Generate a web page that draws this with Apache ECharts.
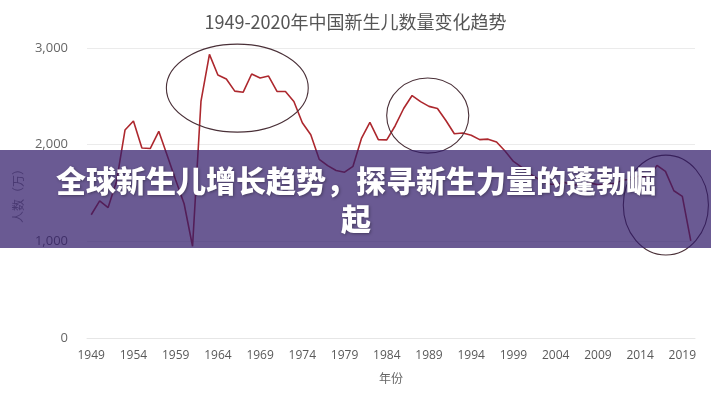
<!DOCTYPE html>
<html>
<head>
<meta charset="utf-8">
<script src="https://cdn.jsdelivr.net/npm/echarts@6/dist/echarts.min.js"></script>
<style>
html,body{margin:0;padding:0;background:#fff;}
#chart{width:711px;height:400px;}
</style>
</head>
<body>
<div id="chart"></div>
<script>
var titleText = '1949-2020年中国新生儿数量变化趋势';
var bannerText = '全球新生儿增长趋势，探寻新生力量的蓬勃崛\n起';
var yAxisName = '人数（万）';
var xAxisName = '年份';

var years = ['1949','1950','1951','1952','1953','1954','1955','1956','1957','1958',
  '1959','1960','1961','1962','1963','1964','1965','1966','1967','1968',
  '1969','1970','1971','1972','1973','1974','1975','1976','1977','1978',
  '1979','1980','1981','1982','1983','1984','1985','1986','1987','1988',
  '1989','1990','1991','1992','1993','1994','1995','1996','1997','1998',
  '1999','2000','2001','2002','2003','2004','2005','2006','2007','2008',
  '2009','2010','2011','2012','2013','2014','2015','2016','2017','2018',
  '2019','2020'];

var births = [1275,1419,1349,1622,2151,2245,1965,1961,2138,1889,
  1635,1389,949,2451,2934,2721,2679,2554,2543,2731,
  2690,2710,2551,2550,2447,2226,2102,1849,1783,1733,
  1715,1776,2064,2230,2052,2050,2196,2374,2508,2445,
  2396,2374,2250,2113,2120,2098,2052,2057,2028,1934,
  1827,1765,1696,1641,1594,1588,1612,1581,1591,1604,
  1587,1588,1600,1635,1640,1683,1655,1786,1723,1523,
  1465,1004];

var yTicks = [0, 1000, 2000, 3000];

// annotation ellipses in data space: centre index (fractional), centre value, radius in years, radius in value
var ovalCenterIdx = [17.3, 39.85, 68.05];
var ovalCenterVal = [2585, 2301, 1375];
var ovalRadiusYears = [8.4, 4.86, 5.04];
var ovalRadiusVal = [455, 388, 517];

var chart = echarts.init(document.getElementById('chart'));
var option = {
  animation: false,
  backgroundColor: '#ffffff',
  title: {
    text: titleText,
    left: 'center',
    top: 8,
    textStyle: {fontSize: 18, fontWeight: 'normal', color: '#555555', fontFamily: 'Noto Sans CJK SC'}
  },
  grid: {left: 87, right: 16, top: 48, bottom: 62},
  xAxis: {
    type: 'category',
    data: years,
    boundaryGap: true,
    name: xAxisName,
    nameLocation: 'middle',
    nameGap: 34,
    nameTextStyle: {fontSize: 12, color: '#666666', fontFamily: 'Noto Sans CJK SC'},
    axisLine: {show: true, lineStyle: {color: '#e6e6e6'}},
    axisTick: {show: false},
    axisLabel: {interval: 4, fontSize: 12, color: '#595959', margin: 12, fontFamily: 'Open Sans'}
  },
  yAxis: {
    type: 'value',
    min: yTicks[0],
    max: yTicks[yTicks.length - 1],
    interval: 1000,
    name: yAxisName,
    nameLocation: 'middle',
    nameGap: 62,
    nameRotate: 90,
    nameTextStyle: {fontSize: 12, color: '#8a8a8a', fontFamily: 'Noto Sans CJK SC'},
    axisLine: {show: false},
    axisTick: {show: false},
    axisLabel: {fontSize: 13, color: '#666666', margin: 19, fontFamily: 'Open Sans',
      formatter: function (v) { return v.toLocaleString('en-US'); }},
    splitLine: {lineStyle: {color: '#ebebeb', width: 1}}
  },
  series: [{
    type: 'line',
    data: births,
    symbol: 'none',
    lineStyle: {color: '#ad282e', width: 1.6},
    z: 3
  }]
};
chart.setOption(option);

function px(idx, val) {
  var i0 = Math.floor(idx);
  var a = chart.convertToPixel({xAxisIndex: 0}, i0);
  var b = chart.convertToPixel({xAxisIndex: 0}, i0 + 1);
  var x = a + (b - a) * (idx - i0);
  var y = chart.convertToPixel({yAxisIndex: 0}, val);
  return [x, y];
}

var step = chart.convertToPixel({xAxisIndex: 0}, 1) - chart.convertToPixel({xAxisIndex: 0}, 0);
var unitY = chart.convertToPixel({yAxisIndex: 0}, 0) - chart.convertToPixel({yAxisIndex: 0}, 1000);

var elements = [];
for (var k = 0; k < ovalCenterIdx.length; k++) {
  var c = px(ovalCenterIdx[k], ovalCenterVal[k]);
  elements.push({
    type: 'ellipse',
    shape: {cx: c[0], cy: c[1], rx: ovalRadiusYears[k] * step, ry: ovalRadiusVal[k] / 1000 * unitY},
    style: {fill: 'none', stroke: '#4a3038', lineWidth: 1.1},
    z: 50
  });
}
elements.push({
  type: 'rect',
  shape: {x: 0, y: 150, width: 711, height: 98},
  style: {fill: 'rgba(48,27,105,0.72)'},
  z: 100
});
elements.push({
  type: 'text',
  x: 356,
  y: 200,
  style: {
    text: bannerText,
    fill: '#ffffff',
    font: '900 30px "Noto Sans CJK SC"',
    align: 'center',
    verticalAlign: 'middle',
    lineHeight: 38,
    textShadowColor: 'rgba(0,0,0,0.35)',
    textShadowBlur: 3,
    textShadowOffsetX: 1,
    textShadowOffsetY: 1
  },
  z: 110
});
chart.setOption({graphic: {elements: elements}});
</script>
</body>
</html>
